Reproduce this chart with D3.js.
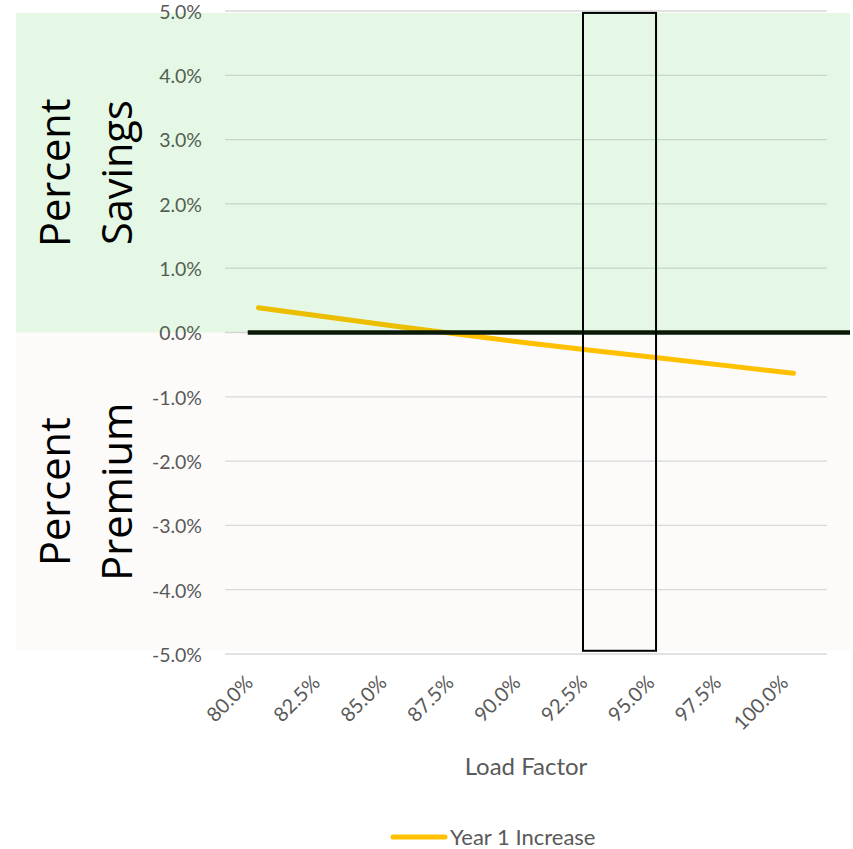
<!DOCTYPE html>
<html><head><meta charset="utf-8">
<script src="https://cdn.jsdelivr.net/npm/d3@7"></script>
<style>body{margin:0;background:#fff}svg{display:block}</style>
</head><body><svg id="c" width="853" height="849"></svg>
<script>
const categories = ["80.0%","82.5%","85.0%","87.5%","90.0%","92.5%","95.0%","97.5%","100.0%"];
const loadFactors = [80,82.5,85,87.5,90,92.5,95,97.5,100];
const year1Increase = [0.386,0.245,0.105,-0.028,-0.161,-0.28,-0.395,-0.515,-0.635];
const yTicks = [-5,-4,-3,-2,-1,0,1,2,3,4,5];
const highlightBox = {lfFrom:92.13, lfTo:94.86, yFrom:-4.95, yTo:4.97};
const savingsRegion = [0, 4.97];
const premiumRegion = [-4.95, 0];
const zeroLineStartLF = 79.6;

(function(){
const svg = d3.select("#c");
const pLeft = 225, pRight = 827, pTop = 11, pBottom = 654;
const x = d3.scaleBand().domain(categories).range([pLeft,pRight]).padding(0);
const bw = x.bandwidth();
const xl = d3.scaleLinear().domain([80,100]).range([x("80.0%")+bw/2, x("100.0%")+bw/2]);
const y = d3.scaleLinear().domain([-5,5]).range([pBottom,pTop]);

svg.append("rect").attr("x",16).attr("width",834)
  .attr("y",y(savingsRegion[1])).attr("height",y(savingsRegion[0])-y(savingsRegion[1]))
  .attr("fill","#f9fff9");
svg.append("rect").attr("x",16).attr("width",834)
  .attr("y",y(premiumRegion[1])).attr("height",y(premiumRegion[0])-y(premiumRegion[1]))
  .attr("fill","#fcfbfa");

svg.append("g").selectAll("line").data(yTicks).join("line")
  .attr("x1",pLeft).attr("x2",pRight).attr("y1",d=>y(d)).attr("y2",d=>y(d))
  .attr("stroke","#d9d9d9").attr("stroke-width",1.3);

svg.append("g").selectAll("text").data(yTicks).join("text")
  .attr("x",202).attr("y",d=>y(d)).attr("dy","0.4em").attr("text-anchor","end")
  .attr("font-family","Lato, sans-serif").attr("font-size",19.5).attr("fill","#595959")
  .text(d=>d3.format(".1f")(d).replace("\u2212","-")+"%");

svg.append("g").selectAll("text").data(categories).join("text")
  .attr("transform",d=>`translate(${x(d)+bw/2-9},${pBottom+25}) rotate(-45)`)
  .attr("text-anchor","end").attr("dy","0.35em")
  .attr("font-family","Lato, sans-serif").attr("font-size",20).attr("fill","#595959")
  .text(d=>d);

const line = d3.line().x((d,i)=>xl(loadFactors[i])).y(d=>y(d));
svg.append("path").datum(year1Increase).attr("d",line)
  .attr("fill","none").attr("stroke","#FFC000").attr("stroke-width",5)
  .attr("stroke-linecap","round").attr("stroke-linejoin","round");

svg.append("rect").attr("x",16).attr("width",834)
  .attr("y",y(savingsRegion[1])).attr("height",y(savingsRegion[0])-y(savingsRegion[1]))
  .attr("fill","rgb(0,160,0)").attr("opacity",0.08);

svg.append("line").attr("x1",xl(zeroLineStartLF)).attr("x2",850).attr("y1",y(0)).attr("y2",y(0))
  .attr("stroke","#0a1a06").attr("stroke-width",4.5);

svg.append("rect").attr("x",xl(highlightBox.lfFrom)).attr("width",xl(highlightBox.lfTo)-xl(highlightBox.lfFrom))
  .attr("y",y(highlightBox.yTo)).attr("height",y(highlightBox.yFrom)-y(highlightBox.yTo))
  .attr("fill","none").attr("stroke","#000").attr("stroke-width",2);

function regionLabel(lines, cy){
  const t = svg.append("text").attr("transform",`translate(0,${cy}) rotate(-90)`)
    .attr("text-anchor","middle").attr("font-family","'Open Sans', sans-serif")
    .attr("font-size",41.5).attr("fill","#000");
  t.append("tspan").attr("x",0).attr("y",70).text(lines[0]);
  t.append("tspan").attr("x",0).attr("y",132).text(lines[1]);
}
regionLabel(["Percent","Savings"], (y(savingsRegion[0])+y(savingsRegion[1]))/2);
regionLabel(["Percent","Premium"], (y(premiumRegion[0])+y(premiumRegion[1]))/2);

svg.append("text").attr("x",(pLeft+pRight)/2).attr("y",775).attr("text-anchor","middle")
  .attr("font-family","Lato, sans-serif").attr("font-size",24).attr("fill","#595959").text("Load Factor");

svg.append("line").attr("x1",393).attr("x2",445).attr("y1",837).attr("y2",837)
  .attr("stroke","#FFC000").attr("stroke-width",5).attr("stroke-linecap","round");
svg.append("text").attr("x",450).attr("y",845).attr("font-family","Lato, sans-serif")
  .attr("font-size",22).attr("fill","#595959").text("Year 1 Increase");
})();
</script></body></html>
